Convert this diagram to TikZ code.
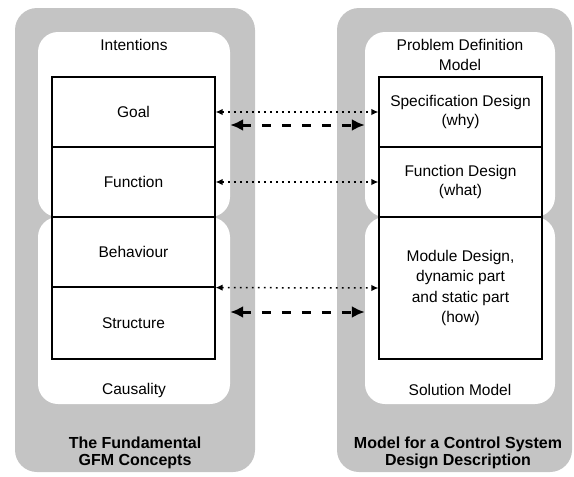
\documentclass[tikz,border=0pt]{standalone}
\usepackage{fontspec}
\setmainfont{Liberation Sans}
\usetikzlibrary{arrows.meta}
\definecolor{panelgray}{HTML}{C4C4C4}
\begin{document}
\begin{tikzpicture}[x=1pt,y=-1pt,
  every node/.style={font=\fontsize{15.5}{19.5}\selectfont, inner sep=0pt, align=center},
  panel/.style={draw=none, fill=panelgray, rounded corners=22pt},
  region/.style={draw=none, fill=white, rounded corners=20pt},
  block/.style={draw=black, line width=1.2pt, fill=white, minimum width=163pt},
  title/.style={font=\fontsize{16}{17.5}\selectfont\bfseries},
  dotarrow/.style={line width=1.5pt, dash pattern=on 1.8pt off 4.2pt, {Latex[length=7pt,width=6.5pt]}-{Latex[length=7pt,width=6.5pt]}},
  dasharrow/.style={line width=3pt, dash pattern=on 9pt off 11pt, {Latex[length=13pt,width=12pt]}-{Latex[length=13pt,width=12pt]}}
]
\useasboundingbox (0,0) rectangle (574,477);

% grey outer panels
\node[panel, minimum width=240pt, minimum height=464pt] (lpanel) at (135,240) {};
\node[panel, minimum width=235pt, minimum height=464pt] (rpanel) at (454.5,240) {};

% white regions inside the panels
\node[region, minimum width=192pt, minimum height=185pt] (intent) at (134,124.5) {};
\node[region, minimum width=192pt, minimum height=187pt] (caus) at (134,310.5) {};
\node[region, minimum width=190pt, minimum height=185pt] (pdm) at (460,124.5) {};
\node[region, minimum width=190pt, minimum height=187pt] (sol) at (460,310.5) {};

% left column of concepts
\node[block, minimum height=70pt] (goal) at (133.5,112) {Goal};
\node[block, minimum height=70pt] (func) at (133.5,182) {Function};
\node[block, minimum height=70pt] (behav) at (133.5,252) {Behaviour};
\node[block, minimum height=72pt] (struct) at (133.5,323) {Structure};

% right column of design parts
\node[block, minimum height=70pt] (spec) at (460.5,112) {Specification Design\\(why)};
\node[block, minimum height=70pt] (fdes) at (460.5,182) {Function Design\\(what)};
\node[block, minimum height=142pt, font=\fontsize{15.5}{20.5}\selectfont] (mod) at (460.5,288) {Module Design,\\dynamic part\\and static part\\(how)};

% region labels
\node (lintent) at (134,45) {Intentions};
\node (lcaus) at (134,390) {Causality};
\node (lpdm) at (460,55) {Problem Definition\\Model};
\node (lsol) at (460,390) {Solution Model};

% panel titles
\node[title] (ltitle) at (135,453) {The Fundamental\\GFM Concepts};
\node[title] (rtitle) at (458,453) {Model for a Control System\\Design Description};

% correspondences
\coordinate (d1) at (0,125);
\coordinate (d2) at (0,312);
\draw[dotarrow] (goal.east) -- (spec.west);
\draw[dotarrow] (func.east) -- (fdes.west);
\draw[dotarrow] (behav.south east) -- (mod.west);
\draw[dasharrow] (intent.east |- d1) -- (pdm.west |- d1);
\draw[dasharrow] (caus.east |- d2) -- (sol.west |- d2);
\end{tikzpicture}
\end{document}
